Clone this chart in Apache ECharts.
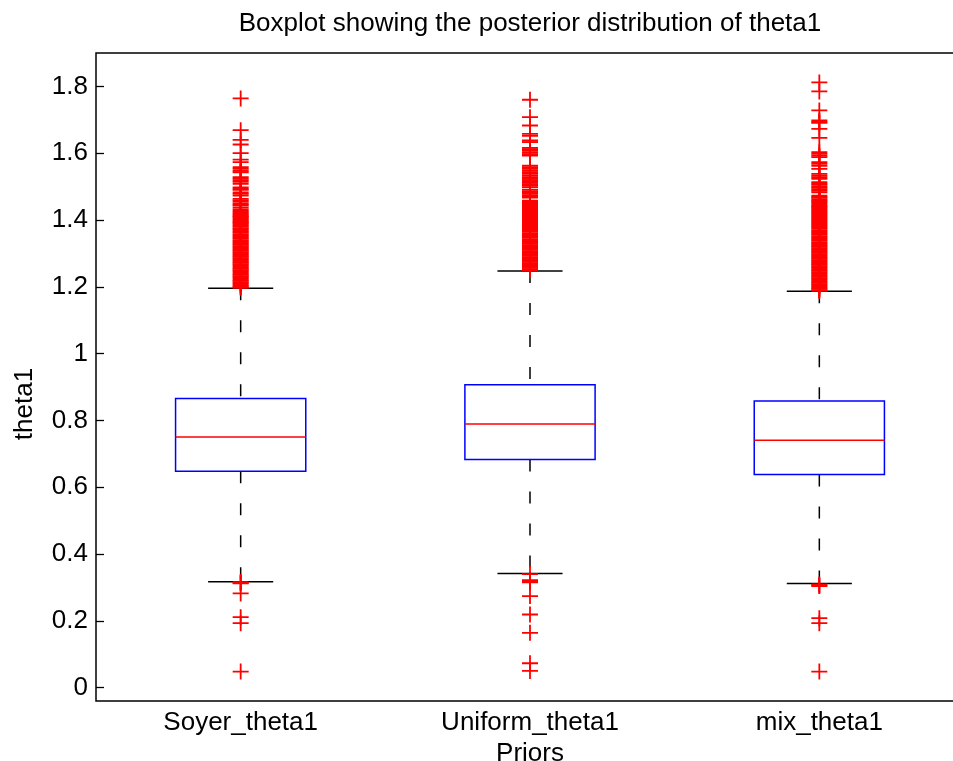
<!DOCTYPE html>
<html>
<head>
<meta charset="utf-8">
<title>Boxplot of theta1</title>
<script src="https://cdn.jsdelivr.net/npm/echarts@6/dist/echarts.min.js"></script>
<style>
  html, body { margin: 0; padding: 0; background: #fff; }
  #chart { width: 953px; height: 761px; }
</style>
</head>
<body>
<div id="chart"></div>
<script>
// Prior names (one box per prior)
const categories = ['Soyer_theta1', 'Uniform_theta1', 'mix_theta1'];

// Five-number summaries of the posterior samples
const whiskerLow  = [0.317, 0.342, 0.312];
const quartile1   = [0.648, 0.683, 0.638];
const medians     = [0.750, 0.789, 0.741];
const quartile3   = [0.866, 0.907, 0.858];
const whiskerHigh = [1.196, 1.247, 1.187];

// Samples beyond the whiskers, per prior
const soyerOutliers = [
  1.764, 1.669, 1.640, 1.626, 1.600, 1.581, 1.573, 1.558, 1.553, 1.547, 1.543,
  1.528, 1.524, 1.519, 1.514, 1.508, 1.498, 1.494, 1.490, 1.483, 1.478, 1.473,
  1.463, 1.459, 1.455, 1.450, 1.446, 1.443, 1.437, 1.432, 1.427, 1.423,
  1.419, 1.416, 1.412, 1.409, 1.405, 1.401, 1.398, 1.394, 1.391, 1.387, 1.383,
  1.380, 1.376, 1.373, 1.369, 1.365, 1.362, 1.358, 1.354, 1.351, 1.347, 1.344,
  1.340, 1.336, 1.333, 1.329, 1.326, 1.322, 1.318, 1.315, 1.311, 1.308, 1.304,
  1.300, 1.297, 1.293, 1.290, 1.286, 1.282, 1.279, 1.275, 1.272, 1.268, 1.264,
  1.261, 1.257, 1.254, 1.250, 1.246, 1.243, 1.239, 1.236, 1.232, 1.228, 1.225,
  1.221, 1.218, 1.214, 1.210, 1.207, 1.203, 1.200, 1.197,
  0.316, 0.314, 0.312, 0.282, 0.211, 0.193, 0.048
];
const uniformOutliers = [
  1.760, 1.708, 1.683, 1.658, 1.652, 1.638, 1.633, 1.616, 1.612, 1.607, 1.602,
  1.597, 1.593, 1.563, 1.558, 1.553, 1.548, 1.543, 1.538, 1.533, 1.528, 1.523,
  1.519, 1.515, 1.511, 1.507, 1.502, 1.498, 1.490, 1.486, 1.482, 1.478, 1.474,
  1.470, 1.467,
  1.458, 1.455, 1.451, 1.448, 1.444, 1.440, 1.437, 1.433, 1.430, 1.426, 1.422,
  1.419, 1.415, 1.412, 1.408, 1.404, 1.401, 1.397, 1.394, 1.390, 1.386, 1.383,
  1.379, 1.376, 1.372, 1.368, 1.365, 1.361, 1.358, 1.354, 1.350, 1.347, 1.343,
  1.340, 1.336, 1.332, 1.329, 1.325, 1.322, 1.318, 1.314, 1.311, 1.307, 1.304,
  1.300, 1.296, 1.293, 1.289, 1.286, 1.282, 1.278, 1.275, 1.271, 1.268, 1.264,
  1.260, 1.257, 1.253, 1.250,
  0.340, 0.322, 0.318, 0.315, 0.274, 0.219, 0.164, 0.073, 0.050
];
const mixOutliers = [
  1.812, 1.785, 1.728, 1.698, 1.694, 1.691, 1.673, 1.646, 1.603, 1.598, 1.593,
  1.588, 1.573, 1.568, 1.562, 1.553, 1.538, 1.533, 1.528, 1.523, 1.513, 1.509,
  1.505, 1.500, 1.496, 1.492, 1.487, 1.483,
  1.473, 1.469, 1.466, 1.462, 1.458, 1.455, 1.451, 1.446, 1.442, 1.439, 1.435,
  1.431, 1.428, 1.424, 1.420, 1.417, 1.413, 1.410, 1.406, 1.402, 1.399, 1.395,
  1.392, 1.388, 1.384, 1.381, 1.377, 1.374, 1.370, 1.366, 1.363, 1.359, 1.356,
  1.352, 1.348, 1.345, 1.341, 1.338, 1.334, 1.330, 1.327, 1.323, 1.320, 1.316,
  1.312, 1.309, 1.305, 1.302, 1.298, 1.294, 1.291, 1.287, 1.284, 1.280, 1.276,
  1.273, 1.269, 1.266, 1.262, 1.258, 1.255, 1.251, 1.248, 1.244, 1.240, 1.237,
  1.233, 1.230, 1.226, 1.222, 1.219, 1.215, 1.212, 1.208, 1.204, 1.201, 1.197,
  1.194, 1.190, 1.188,
  0.309, 0.306, 0.304, 0.208, 0.193, 0.048
];

// Y axis tick positions
const yTicks = [0, 0.2, 0.4, 0.6, 0.8, 1.0, 1.2, 1.4, 1.6, 1.8];

const FONT = '"Liberation Sans", Arial, Helvetica, sans-serif';
const FONT_SIZE = 26;

const boxData = categories.map((c, i) =>
  [i, whiskerLow[i], quartile1[i], medians[i], quartile3[i], whiskerHigh[i]]);

const outlierData = [];
[soyerOutliers, uniformOutliers, mixOutliers].forEach((arr, i) => {
  arr.forEach(v => outlierData.push([i, v]));
});

function renderBox(params, api) {
  const i = api.value(0);
  const pLow = api.coord([i, api.value(1)]);
  const pQ1 = api.coord([i, api.value(2)]);
  const pMed = api.coord([i, api.value(3)]);
  const pQ3 = api.coord([i, api.value(4)]);
  const pHigh = api.coord([i, api.value(5)]);
  const band = api.size([1, 0])[0];
  const half = band * 0.225;
  const capHalf = band * 0.1125;
  const x = pMed[0];
  const black = { stroke: '#000', lineWidth: 1.5 };
  const dashed = { stroke: '#000', lineWidth: 1.5, lineDash: [12, 20] };
  return {
    type: 'group',
    children: [
      // upper whisker, drawn from the cap down to the box
      { type: 'line', shape: { x1: x, y1: pHigh[1], x2: x, y2: pQ3[1] }, style: dashed },
      // lower whisker, drawn from the box down to the cap
      { type: 'line', shape: { x1: x, y1: pQ1[1], x2: x, y2: pLow[1] }, style: dashed },
      { type: 'line', shape: { x1: x - capHalf, y1: pHigh[1], x2: x + capHalf, y2: pHigh[1] }, style: black },
      { type: 'line', shape: { x1: x - capHalf, y1: pLow[1], x2: x + capHalf, y2: pLow[1] }, style: black },
      { type: 'rect', shape: { x: x - half, y: pQ3[1], width: half * 2, height: pQ1[1] - pQ3[1] },
        style: { fill: 'none', stroke: '#0000ff', lineWidth: 1.5 } },
      { type: 'line', shape: { x1: x - half, y1: pMed[1], x2: x + half, y2: pMed[1] },
        style: { stroke: '#ff0000', lineWidth: 1.5 } }
    ]
  };
}

const chart = echarts.init(document.getElementById('chart'), null, { renderer: 'canvas' });

chart.setOption({
  animation: false,
  backgroundColor: '#ffffff',
  textStyle: { fontFamily: FONT },
  grid: {
    left: 96, top: 53, bottom: 60, width: 868,
    outerBoundsMode: 'none',
    containLabel: false,
    show: true, borderColor: '#000', borderWidth: 1.5, backgroundColor: 'transparent'
  },
  xAxis: {
    type: 'category',
    data: categories,
    boundaryGap: true,
    axisLine: { show: false },
    axisTick: { show: false },
    splitLine: { show: false },
    axisLabel: { color: '#000', fontSize: FONT_SIZE, fontFamily: FONT, margin: 9 },
    name: 'Priors',
    nameLocation: 'middle',
    nameGap: 38,
    nameTextStyle: { color: '#000', fontSize: FONT_SIZE, fontFamily: FONT }
  },
  yAxis: {
    type: 'value',
    min: -0.04,
    max: 1.9,
    axisLine: { show: false },
    splitLine: { show: false },
    axisTick: {
      show: true, inside: true, length: 8, customValues: yTicks,
      lineStyle: { color: '#000', width: 1.3 }
    },
    axisLabel: {
      color: '#000', fontSize: FONT_SIZE, fontFamily: FONT, margin: 8,
      customValues: yTicks,
      formatter: v => String(Number(Number(v).toFixed(2)))
    }
  },
  graphic: [
    {
      type: 'text', x: 530, y: 24,
      style: {
        text: 'Boxplot showing the posterior distribution of theta1',
        fill: '#000', font: FONT_SIZE + 'px ' + FONT, align: 'center', verticalAlign: 'middle'
      }
    },
    {
      type: 'text', x: 25, y: 404, rotation: Math.PI / 2,
      style: {
        text: 'theta1', fill: '#000', font: FONT_SIZE + 'px ' + FONT,
        align: 'center', verticalAlign: 'middle'
      }
    }
  ],
  series: [
    {
      type: 'custom',
      data: boxData,
      renderItem: renderBox,
      encode: { x: 0, y: [1, 2, 3, 4, 5] },
      silent: true,
      z: 2
    },
    {
      type: 'scatter',
      data: outlierData,
      symbol: 'path://M8,0L8,16M0,8L16,8',
      symbolSize: 16,
      itemStyle: { color: 'none', borderColor: '#ff0000', borderWidth: 1.8, opacity: 1 },
      silent: true,
      z: 3
    }
  ]
});
</script>
</body>
</html>
